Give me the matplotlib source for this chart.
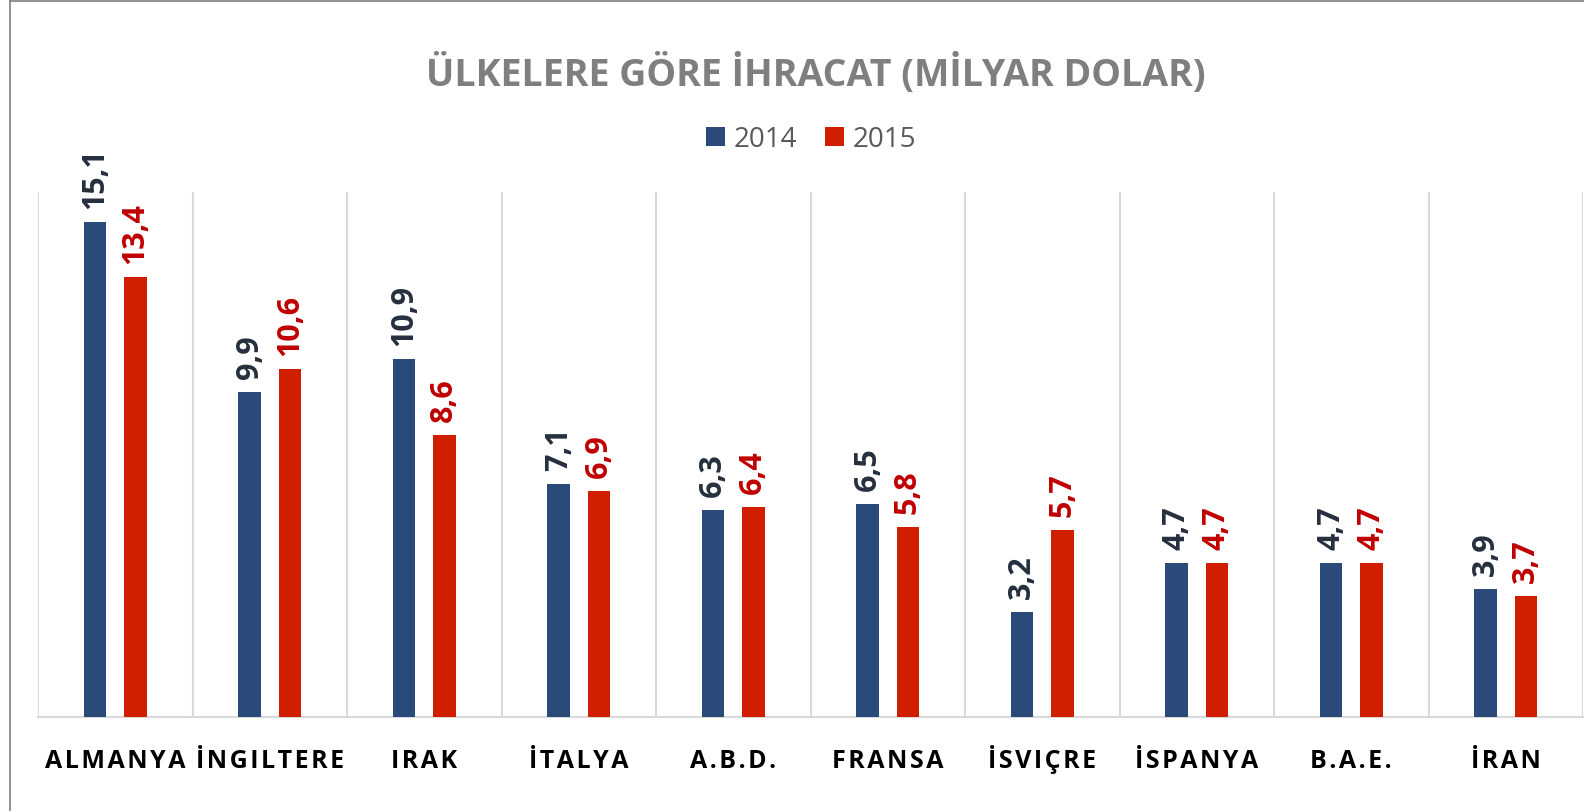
import matplotlib.pyplot as plt
import numpy as np

# Data
countries = ['ALMANYA', 'İNGILTERE', 'IRAK', 'İTALYA', 'A.B.D.', 'FRANSA',
             'İSVIÇRE', 'İSPANYA', 'B.A.E.', 'İRAN']
values_2014 = [15.1, 9.9, 10.9, 7.1, 6.3, 6.5, 3.2, 4.7, 4.7, 3.9]
values_2015 = [13.4, 10.6, 8.6, 6.9, 6.4, 5.8, 5.7, 4.7, 4.7, 3.7]
years = ['2014', '2015']

blue = '#2A4B7A'
red = '#CF1F00'
font = ['Open Sans', 'DejaVu Sans']

fig = plt.figure(figsize=(15.84, 8.12), dpi=100)
ax = fig.add_axes([38 / 1584, 94 / 812, 1545 / 1584, 525 / 812])

x = np.arange(len(countries))
w = 0.145
ax.bar(x - 0.13, values_2014, w, color=blue, label=years[0], zorder=3)
ax.bar(x + 0.13, values_2015, w, color=red, label=years[1], zorder=3)

# value labels
for i in range(len(countries)):
    ax.annotate(f'{values_2014[i]:.1f}'.replace('.', ','), (x[i] - 0.13, values_2014[i]),
                xytext=(0, 10), textcoords='offset points', rotation=90,
                ha='center', va='bottom', fontsize=22, fontweight='bold',
                color='#262F3D', family=font)
    ax.annotate(f'{values_2015[i]:.1f}'.replace('.', ','), (x[i] + 0.13, values_2015[i]),
                xytext=(0, 10), textcoords='offset points', rotation=90,
                ha='center', va='bottom', fontsize=22, fontweight='bold',
                color='#C00000', family=font)

ax.set_xlim(-0.5, len(countries) - 0.5)
ax.set_ylim(0, 16)
ax.set_yticks([])
ax.set_xticks(x)
# letter-spaced category labels, aligned on baseline
ax.set_xticklabels(['\u200a'.join(c) for c in countries], fontsize=18,
                   fontweight='bold', family=font, va='baseline')
ax.tick_params(axis='x', length=0, pad=36)

# vertical separators between categories
for b in np.arange(-0.5, len(countries), 1.0):
    ax.axvline(b, color='#D9D9D9', lw=1.5, zorder=1)
for s in ['top', 'right', 'left']:
    ax.spines[s].set_visible(False)
ax.spines['bottom'].set_color('#D9D9D9')
ax.spines['bottom'].set_linewidth(1.5)
ax.patch.set_alpha(0)

fig.text(0.515, 1 - 75 / 812, 'ÜLKELERE GÖRE İHRACAT (MİLYAR DOLAR)', ha='center', va='center',
         fontsize=27, fontweight='bold', color='#7F7F7F', family=font)

leg = fig.legend(loc='center', bbox_to_anchor=(0.512, 1 - 140 / 812), ncol=2, frameon=False,
                 handlelength=0.7, handleheight=0.7, columnspacing=1.0,
                 handletextpad=0.3, prop={'family': font, 'size': 20})
for t in leg.get_texts():
    t.set_color('#595959')

# outer border lines (top and left)
fig.add_artist(plt.Line2D([10 / 1584, 10 / 1584], [0, 1 - 2 / 812], color='#7F7F7F', lw=1.2))
fig.add_artist(plt.Line2D([10 / 1584, 1], [1 - 2 / 812, 1 - 2 / 812], color='#7F7F7F', lw=1.2))

fig.savefig('out.png', dpi=100)
